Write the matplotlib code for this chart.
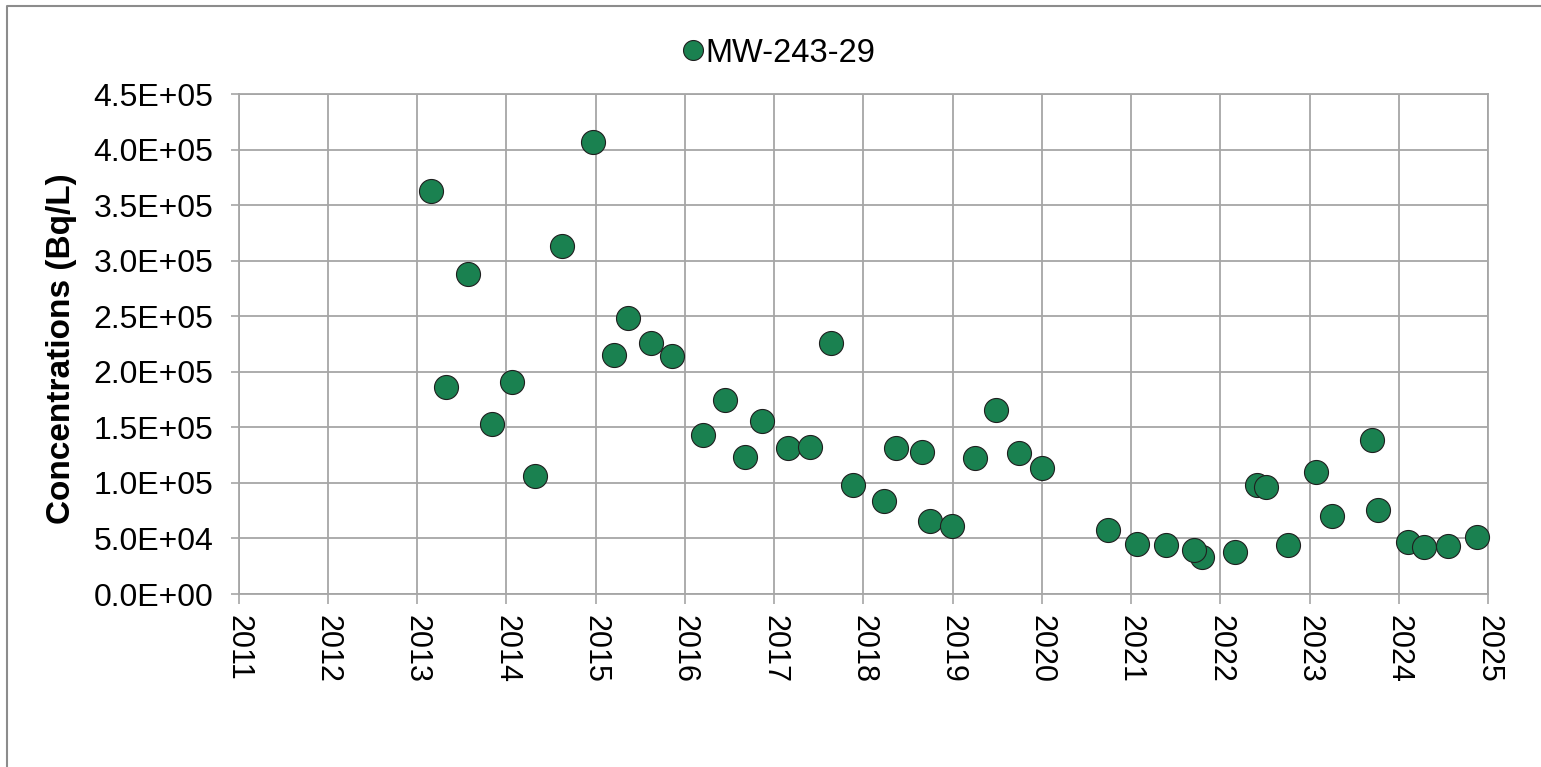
import matplotlib
matplotlib.use('Agg')
import matplotlib.pyplot as plt
from matplotlib.lines import Line2D

plt.rcParams['font.family'] = ['Liberation Sans', 'DejaVu Sans']

# sample dates (decimal years) and concentrations (Bq/L)
years = [2013.16, 2013.33, 2013.57, 2013.84, 2014.06, 2014.32, 2014.63, 2014.97,
         2015.21, 2015.36, 2015.62, 2015.86, 2016.20, 2016.45, 2016.68, 2016.87,
         2017.16, 2017.40, 2017.64, 2017.89, 2018.23, 2018.37, 2018.66, 2018.75,
         2018.99, 2019.25, 2019.49, 2019.74, 2020.00, 2020.74, 2021.07, 2021.39,
         2021.79, 2021.71, 2022.17, 2022.41, 2022.51, 2022.76, 2023.07, 2023.25,
         2023.70, 2023.77, 2024.10, 2024.28, 2024.55, 2024.88]
conc = [3.63e5, 1.86e5, 2.88e5, 1.53e5, 1.91e5, 1.06e5, 3.13e5, 4.07e5,
        2.15e5, 2.48e5, 2.26e5, 2.14e5, 1.43e5, 1.75e5, 1.23e5, 1.56e5,
        1.31e5, 1.32e5, 2.26e5, 0.98e5, 0.84e5, 1.31e5, 1.28e5, 0.66e5,
        0.61e5, 1.22e5, 1.66e5, 1.27e5, 1.13e5, 0.58e5, 0.45e5, 0.44e5,
        0.33e5, 0.40e5, 0.38e5, 0.98e5, 0.96e5, 0.44e5, 1.10e5, 0.70e5,
        1.39e5, 0.76e5, 0.47e5, 0.42e5, 0.43e5, 0.51e5]
series_name = 'MW-243-29'
y_label = 'Concentrations (Bq/L)'
x_ticks = list(range(2011, 2026))
y_ticks = [i * 5e4 for i in range(10)]
y_ticklabels = ['0.0E+00', '5.0E+04', '1.0E+05', '1.5E+05', '2.0E+05',
                '2.5E+05', '3.0E+05', '3.5E+05', '4.0E+05', '4.5E+05']

grid_color = '#a6a6a6'
green = '#1a8150'

fig = plt.figure(figsize=(15.41, 7.67), dpi=100)
ax = fig.add_axes([238.5 / 1541, 1 - 594 / 767, 1249.5 / 1541, 500 / 767])

ax.plot(years, conc, linestyle='none', marker='o', markersize=17.3,
        markerfacecolor=green, markeredgecolor='#1f1f1f', markeredgewidth=0.8,
        label=series_name, zorder=3, clip_on=False)

ax.set_xlim(2011, 2025)
ax.set_ylim(0, 4.5e5)
ax.set_xticks(x_ticks)
ax.set_xticklabels([str(t) for t in x_ticks], rotation=-90)
ax.set_yticks(y_ticks)
ax.set_yticklabels(y_ticklabels)
ax.tick_params(axis='both', color=grid_color, width=1.2)
ax.tick_params(axis='y', length=6, pad=12, labelsize=23)
ax.tick_params(axis='x', length=7, pad=8, labelsize=22)
ax.grid(True, color=grid_color, linewidth=1.3)
ax.set_axisbelow(True)
for s in ax.spines.values():
    s.set_color(grid_color)
    s.set_linewidth(1.3)

ax.set_ylabel(y_label, fontsize=24, fontweight='bold')
ax.yaxis.set_label_coords(-0.129, 0.49)

fig.legend(loc='center left', bbox_to_anchor=(647 / 1541, 1 - 53 / 767), frameon=False,
           fontsize=23.5, handlelength=1.0, handletextpad=-0.1, markerscale=0.83)

# outer chart frame (only top and left edges fall inside the image)
fig.add_artist(Line2D([7 / 1541, 7 / 1541, 1], [0, 1 - 6 / 767, 1 - 6 / 767],
                      transform=fig.transFigure, color='#8c8c8c', linewidth=1.5))

fig.savefig('out.png', dpi=100)
